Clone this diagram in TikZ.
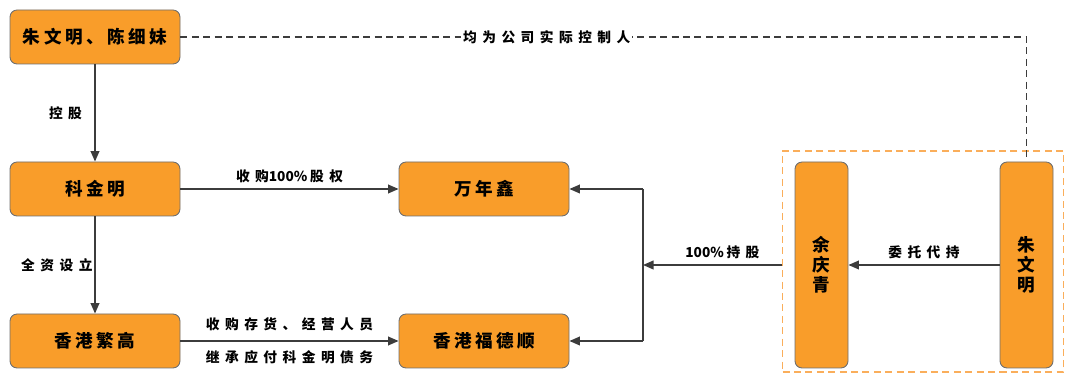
\documentclass[tikz,border=0pt]{standalone}
\usepackage{fontspec}
\newfontfamily\boxfont{Noto Sans CJK SC}[LetterSpace=20]
\newfontfamily\labfont{Noto Sans CJK SC}[LetterSpace=40]
\newfontfamily\digitfont{Noto Sans CJK SC}
\usetikzlibrary{arrows.meta,positioning}
\definecolor{boxorange}{HTML}{F99D2A}
\definecolor{boxline}{HTML}{6E6E6E}
\definecolor{linegray}{HTML}{3C3C3C}
\definecolor{frameorange}{HTML}{FAAE5B}
\newcommand{\px}{0.02cm}
\newcommand{\lw}{0.85pt}
\newcommand{\digits}[1]{{\digitfont\bfseries #1\hspace{1.5pt}}}
\tikzset{
  entity/.style={draw=boxline, fill=boxorange, rounded corners=4pt, line width=0.5pt,
    minimum width=170*\px, minimum height=54*\px, inner sep=0pt,
    font=\boxfont\fontsize{10pt}{12pt}\selectfont\bfseries},
  holder/.style={entity, minimum width=53*\px, minimum height=206*\px, align=center,
    font=\boxfont\fontsize{10pt}{11.3pt}\selectfont\bfseries},
  link/.style={draw=linegray, line width=\lw, -{Triangle[length=6pt,width=5pt]}},
  plain/.style={draw=linegray, line width=\lw},
  ctrl/.style={draw=linegray, line width=\lw, dash pattern=on 4pt off 2.5pt},
  lab/.style={inner sep=1pt, font=\labfont\fontsize{7.8pt}{9pt}\selectfont\bfseries}
}

\begin{document}
\begin{tikzpicture}[x=\px, y=-\px]
\useasboundingbox (0,0) rectangle (1065,374);
\node[entity] (ctrlr) at (95, 37) {朱文明、陈细妹};
\node[entity] (kjm) at (95, 189) {科金明};
\node[entity] (fg) at (95, 341) {香港繁高};
\node[entity] (wnx) at (484, 189) {万年鑫};
\node[entity] (fds) at (484, 341) {香港福德顺};
\node[holder] (yqq) at (821.5, 265) {余\\庆\\青};
\node[holder] (zwm) at (1026.5, 265) {朱\\文\\明};
\node[draw=frameorange, line width=0.8pt, dash pattern=on 4pt off 2.5pt,
  minimum width=281*\px, minimum height=221*\px, inner sep=0pt] (agent) at (923, 261.5) {};
\coordinate (jt) at (643, 189);
\coordinate (jm) at (643, 265);
\coordinate (jb) at (643, 341);
%ownership
\draw[link] (ctrlr) -- node[lab, left=6pt] {控股} (kjm);
\draw[link] (kjm) -- node[lab, left=0pt] {全资设立} (fg);
\draw[link] (kjm) -- node[lab, above=2pt] {收购\digits{100\%}股权} (wnx);
\draw[link] (fg) -- node[lab, above=4pt] {收购存货、经营人员}
  node[lab, below=4pt] {继承应付科金明债务} (fds);
%holding
\draw[plain] (jt) -- (jb);
\draw[link] (jt) -- (wnx);
\draw[link] (jb) -- (fds);
\draw[link] (agent.west |- jm) -- node[lab, above=2pt, xshift=10*\px] {\digits{100\%}持股} (jm);
\draw[link] (zwm) -- node[lab, above=2pt] {委托代持} (yqq);
%actual controller
\draw[ctrl] (ctrlr.east) -- node[lab, fill=white, pos=0.433] {均为公司实际控制人}
  (ctrlr.east -| zwm.north) -- (zwm.north);
\end{tikzpicture}
\end{document}
